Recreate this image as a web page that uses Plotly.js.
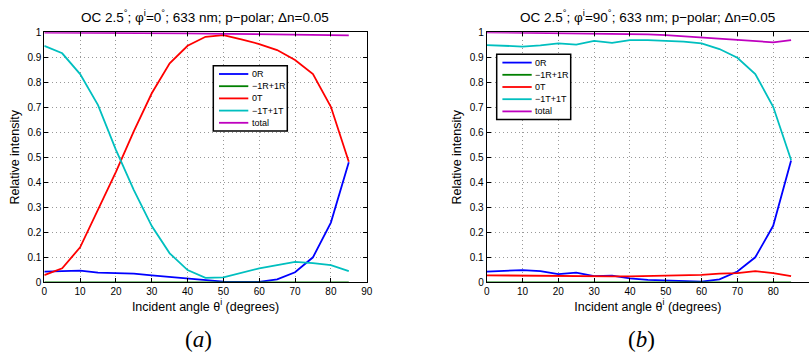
<!DOCTYPE html>
<html><head><meta charset="utf-8">
<script src="https://cdn.plot.ly/plotly-3.0.1.min.js"></script>
<style>html,body{margin:0;padding:0;background:#fff}#chart{width:809px;height:360px}</style>
</head><body><div id="chart"></div>
<script>
const angles = [0,5,10,15,20,25,30,35,40,45,50,55,60,65,70,75,80,85];
const seriesNames = ["0R","\u22121R+1R","0T","\u22121T+1T","total"];
const seriesColors = ["#0000ff","#008000","#ff0000","#00bfbf","#bf00bf"];

// (a) phi = 0
const a_0R     = [0.043,0.045,0.047,0.039,0.038,0.035,0.028,0.022,0.017,0.008,0.003,0.002,0.002,0.012,0.040,0.100,0.239,0.480];
const a_m1R1R  = [0,0,0,0,0,0,0,0,0,0,0,0,0,0,0,0,0,0];
const a_0T     = [0.029,0.056,0.140,0.289,0.442,0.605,0.756,0.876,0.946,0.982,0.989,0.972,0.953,0.929,0.889,0.833,0.702,0.482];
const a_m1T1T  = [0.946,0.916,0.833,0.709,0.530,0.369,0.225,0.116,0.049,0.018,0.020,0.037,0.056,0.069,0.082,0.077,0.069,0.045];
const a_total  = [0.999,0.999,0.998,0.998,0.998,0.997,0.997,0.996,0.996,0.995,0.994,0.993,0.992,0.991,0.990,0.990,0.989,0.988];

// (b) phi = 90
const b_0R     = [0.043,0.045,0.049,0.045,0.033,0.039,0.025,0.027,0.016,0.010,0.008,0.004,0.003,0.012,0.043,0.100,0.226,0.487];
const b_m1R1R  = [0,0,0,0,0,0,0,0,0,0,0,0,0,0,0,0,0,0];
const b_0T     = [0.028,0.027,0.027,0.026,0.026,0.025,0.025,0.024,0.024,0.025,0.026,0.028,0.030,0.035,0.037,0.045,0.037,0.025];
const b_m1T1T  = [0.949,0.945,0.943,0.948,0.956,0.951,0.966,0.958,0.969,0.969,0.966,0.963,0.956,0.933,0.898,0.833,0.702,0.489];
const b_total  = [1.000,0.999,0.999,0.998,0.998,0.997,0.997,0.996,0.994,0.992,0.989,0.984,0.978,0.973,0.969,0.964,0.960,0.969];

const titles = [
  "OC 2.5<sup>°</sup>; φ<sup>i</sup>=0<sup>°</sup>; 633 nm; p\u2212polar; Δn=0.05",
  "OC 2.5<sup>°</sup>; φ<sup>i</sup>=90<sup>°</sup>; 633 nm; p\u2212polar; Δn=0.05"
];
const xTitle = "Incident angle θ<sup>i</sup> (degrees)";
const yTitle = "Relative intensity";
const panelLabels = ["(<i>a</i>)","(<i>b</i>)"];

const W = 809, H = 360;
const A = [a_0R,a_m1R1R,a_0T,a_m1T1T,a_total];
const B = [b_0R,b_m1R1R,b_0T,b_m1T1T,b_total];
const traces = [];
A.forEach((ys,i)=>traces.push({x:angles,y:ys,name:seriesNames[i],type:'scatter',mode:'lines',
  line:{color:seriesColors[i],width:1.8},xaxis:'x',yaxis:'y',showlegend:false}));
B.forEach((ys,i)=>traces.push({x:angles,y:ys,name:seriesNames[i],type:'scatter',mode:'lines',
  line:{color:seriesColors[i],width:1.8},xaxis:'x2',yaxis:'y2',showlegend:false}));

const font = {family:"Liberation Sans, Arial, sans-serif",color:"#000"};
function xax(dom, anchor){
  return {domain:dom,anchor:anchor,range:[0,90],dtick:10,tick0:0,showline:true,linecolor:'#000',linewidth:1,
    mirror:'ticks',ticks:'inside',ticklen:4,tickcolor:'#000',showgrid:true,gridcolor:'#999',griddash:'1px,3px',gridwidth:1,
    zeroline:false,tickfont:{...font,size:10},
    title:{text:xTitle,font:{...font,size:12.5},standoff:1}};
}
function yax(anchor){
  return {domain:[0.2158,0.9103],anchor:anchor,range:[0,1],dtick:0.1,tick0:0,showline:true,linecolor:'#000',linewidth:1,
    mirror:'ticks',ticks:'inside',ticklen:4,tickcolor:'#000',showgrid:true,gridcolor:'#999',griddash:'1px,3px',gridwidth:1,
    zeroline:false,tickfont:{...font,size:10},tickformat:'~g',
    title:{text:yTitle,font:{...font,size:12.5},standoff:5}};
}

// manual legends (boxes in pixel positions converted to paper)
const shapes = [], annotations = [];
function addLegend(left, top){
  const w = 74, h = 65.3;
  shapes.push({type:'rect',xref:'paper',yref:'paper',x0:left/W,x1:(left+w)/W,y0:1-(top+h)/H,y1:1-top/H,
    line:{color:'#000',width:1.5},fillcolor:'#fff',layer:'above'});
  seriesNames.forEach((nm,i)=>{
    const yc = top + 8.3 + i*12.2;
    shapes.push({type:'line',xref:'paper',yref:'paper',x0:(left+5.7)/W,x1:(left+35)/W,y0:1-yc/H,y1:1-yc/H,
      line:{color:seriesColors[i],width:1.8},layer:'above'});
    annotations.push({text:nm,xref:'paper',yref:'paper',x:(left+36.5)/W,y:1-yc/H,xanchor:'left',yanchor:'middle',
      showarrow:false,font:{...font,size:9}});
  });
}
addLegend(213.3,65.7);
addLegend(496.7,54.3);

annotations.push(
  {text:titles[0],xref:'paper',yref:'paper',x:205/W,y:(H-16)/H,showarrow:false,xanchor:'center',yanchor:'middle',font:{...font,size:13.5}},
  {text:titles[1],xref:'paper',yref:'paper',x:647/W,y:(H-16)/H,showarrow:false,xanchor:'center',yanchor:'middle',font:{...font,size:13.5}},
  {text:panelLabels[0],xref:'paper',yref:'paper',x:198/W,y:(H-339)/H,showarrow:false,xanchor:'center',yanchor:'middle',font:{family:"Liberation Serif, Times New Roman, serif",size:23,color:'#000'}},
  {text:panelLabels[1],xref:'paper',yref:'paper',x:641/W,y:(H-339)/H,showarrow:false,xanchor:'center',yanchor:'middle',font:{family:"Liberation Serif, Times New Roman, serif",size:23,color:'#000'}}
);

const layout = {
  width:W,height:H,margin:{l:0,r:0,t:0,b:0},paper_bgcolor:'#fff',plot_bgcolor:'#fff',
  font:font,showlegend:false,
  xaxis:xax([44.3/W,366.7/W],'y'),
  yaxis:yax('x'),
  xaxis2:xax([486.7/W,1.0],'y2'),
  yaxis2:yax('x2'),
  shapes:shapes,annotations:annotations
};
Plotly.newPlot('chart',traces,layout,{displayModeBar:false,staticPlot:true});
</script></body></html>
